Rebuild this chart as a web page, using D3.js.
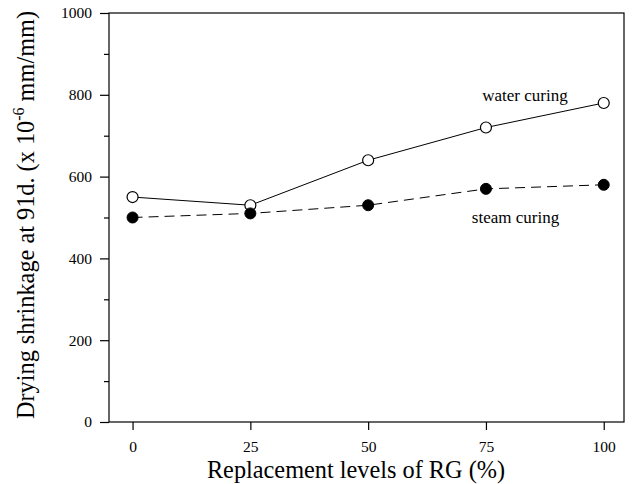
<!DOCTYPE html>
<html>
<head>
<meta charset="utf-8">
<script src="https://cdn.jsdelivr.net/npm/d3@7"></script>
<style>
  body { margin: 0; background: #fff; }
  svg, svg text { font-family: "Liberation Serif", "Times New Roman", serif; }
  svg { display: block; }
</style>
</head>
<body>
<svg id="chart" width="634" height="484"></svg>
<script>
// Replacement levels of RG (%)
const levels = [0, 25, 50, 75, 100];
// Drying shrinkage at 91 days (x 10^-6 mm/mm)
const waterCuring = [550, 530, 640, 720, 780];
const steamCuring = [500, 510, 530, 570, 580];
const yTicks = [0, 200, 400, 600, 800, 1000];
const yMinorTicks = [100, 300, 500, 700, 900];

const svg = d3.select("#chart");
const plotLeft = 109, plotRight = 624, plotTop = 13, plotBottom = 422;

const x = d3.scaleLinear().domain([-5, 104.3]).range([plotLeft, plotRight]);
const y = d3.scaleLinear().domain([0, 1000]).range([plotBottom, plotTop]);

// frame
svg.append("rect")
  .attr("x", plotLeft).attr("y", plotTop)
  .attr("width", plotRight - plotLeft).attr("height", plotBottom - plotTop)
  .attr("fill", "none").attr("stroke", "#000").attr("stroke-width", 1.2);

// y axis
const yAxis = svg.append("g").attr("transform", `translate(${plotLeft},0)`)
  .call(d3.axisLeft(y).tickValues(yTicks).tickSize(9).tickPadding(8).tickFormat(d3.format("d")))
  .attr("font-family", null).attr("font-size", null);
yAxis.select(".domain").remove();
yAxis.selectAll("line").attr("stroke", "#000").attr("stroke-width", 1.2);
yAxis.selectAll("text").style("font-size", "15.5px").attr("fill", "#000");

const yMinor = svg.append("g").attr("transform", `translate(${plotLeft},0)`)
  .call(d3.axisLeft(y).tickValues(yMinorTicks).tickSize(5).tickFormat(""));
yMinor.select(".domain").remove();
yMinor.selectAll("line").attr("stroke", "#000").attr("stroke-width", 1.2);

// x axis
const xAxis = svg.append("g").attr("transform", `translate(0,${plotBottom})`)
  .call(d3.axisBottom(x).tickValues(levels).tickSize(8).tickPadding(11).tickFormat(d3.format("d")))
  .attr("font-family", null).attr("font-size", null);
xAxis.select(".domain").remove();
xAxis.selectAll("line").attr("stroke", "#000").attr("stroke-width", 1.2);
xAxis.selectAll("text").style("font-size", "15.5px").attr("fill", "#000");

// series
const line = d3.line().x((d, i) => x(levels[i])).y(d => y(d));

svg.append("path").datum(waterCuring)
  .attr("d", line).attr("fill", "none").attr("stroke", "#000").attr("stroke-width", 1);
svg.append("path").datum(steamCuring)
  .attr("d", line).attr("fill", "none").attr("stroke", "#000").attr("stroke-width", 1)
  .attr("stroke-dasharray", "10,6");

svg.append("g").selectAll("circle").data(waterCuring).join("circle")
  .attr("cx", (d, i) => x(levels[i])).attr("cy", d => y(d)).attr("r", 5.5)
  .attr("fill", "#fff").attr("stroke", "#000").attr("stroke-width", 1.2);
svg.append("g").selectAll("circle").data(steamCuring).join("circle")
  .attr("cx", (d, i) => x(levels[i])).attr("cy", d => y(d)).attr("r", 5.5)
  .attr("fill", "#000").attr("stroke", "#000").attr("stroke-width", 1);

// series labels
svg.append("text").attr("x", 525).attr("y", 101).attr("text-anchor", "middle")
  .style("font-size", "17px").text("water curing");
svg.append("text").attr("x", 515.5).attr("y", 223).attr("text-anchor", "middle")
  .style("font-size", "17px").text("steam curing");

// axis titles
svg.append("text").attr("x", 356).attr("y", 478)
  .attr("text-anchor", "middle").style("font-size", "24.3px")
  .text("Replacement levels of RG (%)");

const yTitle = svg.append("text")
  .attr("transform", "translate(34,215) rotate(-90)")
  .attr("text-anchor", "middle").style("font-size", "24.3px");
yTitle.append("tspan").text("Drying shrinkage at 91d. (x 10");
yTitle.append("tspan").style("font-size", "16px").attr("dy", -10).text("-6");
yTitle.append("tspan").attr("dy", 10).text(" mm/mm)");
</script>
</body>
</html>
